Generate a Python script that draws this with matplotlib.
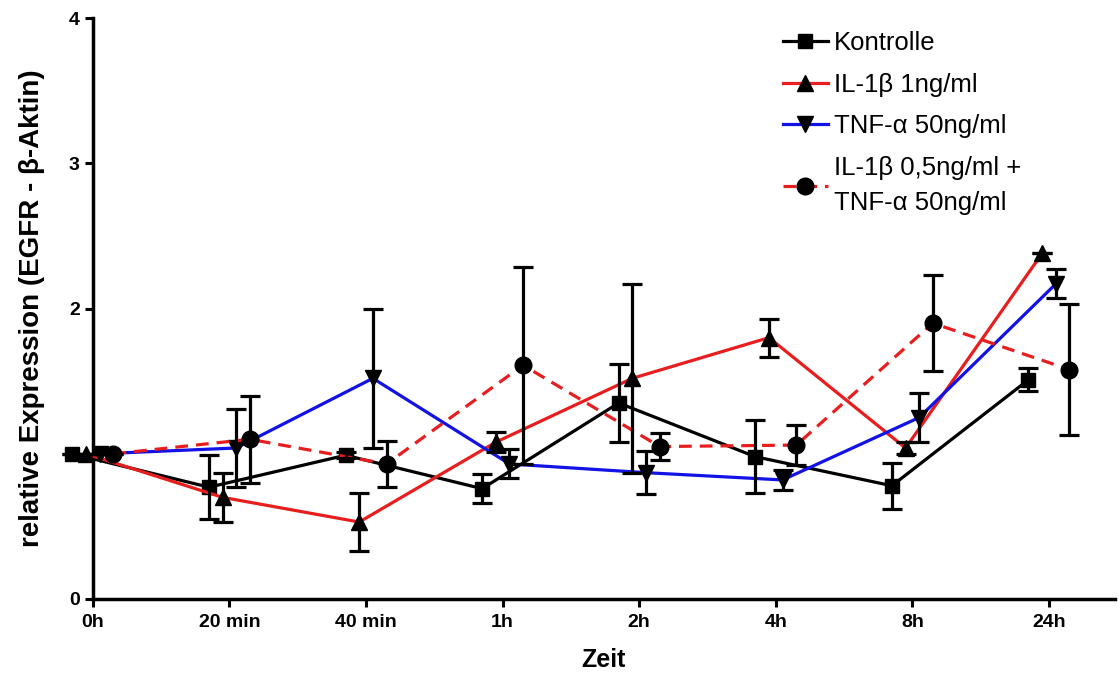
import numpy as np
from matplotlib import pyplot as plt

plt.rcParams['font.family'] = ['Liberation Sans', 'DejaVu Sans']

zeit = ['0h', '20 min', '40 min', '1h', '2h', '4h', '8h', '24h']

kontrolle = [1.00, 0.77, 0.99, 0.76, 1.35, 0.98, 0.78, 1.51]
kontrolle_err = [0.0, 0.22, 0.02, 0.10, 0.27, 0.25, 0.16, 0.08]

il1b = [1.00, 0.70, 0.53, 1.08, 1.52, 1.80, 1.04, 2.38]
il1b_err = [0.0, 0.17, 0.20, 0.07, 0.65, 0.13, 0.04, 0.0]

tnfa = [1.00, 1.04, 1.52, 0.93, 0.87, 0.82, 1.25, 2.17]
tnfa_err = [0.0, 0.27, 0.48, 0.10, 0.15, 0.07, 0.17, 0.10]

kombi = [1.00, 1.10, 0.93, 1.61, 1.05, 1.06, 1.90, 1.58]
kombi_err = [0.0, 0.30, 0.16, 0.68, 0.09, 0.14, 0.33, 0.45]

series = [
    ('Kontrolle', kontrolle, kontrolle_err, 'black', '-', 's', 10.5),
    ('IL-1\u03b2 1ng/ml', il1b, il1b_err, '#e81e1e', '-', '^', 11),
    ('TNF-\u03b1 50ng/ml', tnfa, tnfa_err, '#1212e6', '-', 'v', 11),
    ('IL-1\u03b2 0,5ng/ml +\nTNF-\u03b1 50ng/ml', kombi, kombi_err, '#e81e1e', (0, (4, 2.5)), 'o', 12),
]
offsets = [-0.15, -0.05, 0.05, 0.15]

fig = plt.figure(figsize=(11.19, 6.75), dpi=100)
ax = fig.add_axes([0.083, 0.1126, 0.913, 0.8604])

x = np.arange(len(zeit))
for (label, vals, errs, color, ls, marker, ms), off in zip(series, offsets):
    xs = x + off
    ax.plot(xs, vals, color=color, linestyle=ls, lw=2.3, marker=marker, ms=ms,
            mfc='black', mec='black', label=label, clip_on=False, zorder=3)
    ax.errorbar(xs, vals, yerr=errs, fmt='none', ecolor='black', elinewidth=2.3,
                capsize=7, capthick=2.3, clip_on=False, zorder=4)

ax.set_xlim(0, 7.48)
ax.set_ylim(0, 4)
ax.set_xticks(x)
ax.set_xticklabels(zeit, fontsize=14, fontweight='bold')
ax.set_yticks([0, 1, 2, 3, 4])
ax.set_yticklabels(['0', '1', '2', '3', '4'], fontsize=14, fontweight='bold')
for s in ['top', 'right']:
    ax.spines[s].set_visible(False)
for s in ['left', 'bottom']:
    ax.spines[s].set_linewidth(2.5)
ax.tick_params(width=2.2, length=6, direction='out')
ax.tick_params(axis='x', pad=5)

ax.set_xlabel('Zeit', fontsize=18, fontweight='bold', labelpad=12)
ax.set_ylabel('relative Expression (EGFR - \u03b2-Aktin)', fontsize=20, fontweight='bold', labelpad=17)

leg = ax.legend(loc='upper left', bbox_to_anchor=(0.665, 0.995), frameon=False, fontsize=18.5,
                handlelength=1.75, handletextpad=0.25, labelspacing=0.68, borderaxespad=0)
for t in leg.get_texts():
    t.set_linespacing(1.6)

fig.savefig('out.png', dpi=100)
